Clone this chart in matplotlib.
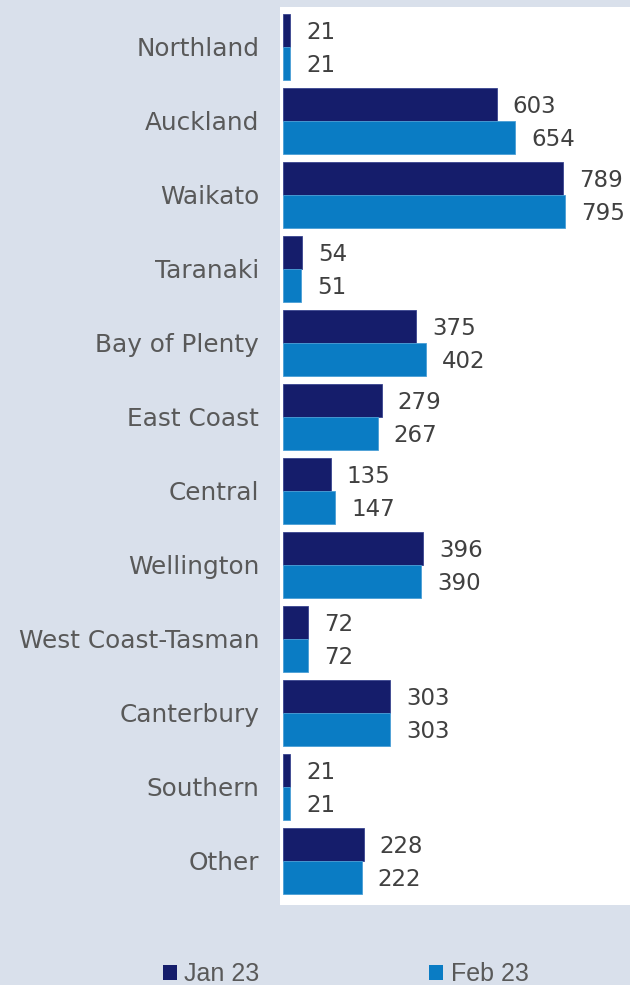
import matplotlib
matplotlib.use("Agg")
import matplotlib.pyplot as plt
from matplotlib.patches import Patch
import numpy as np

regions = ["Northland", "Auckland", "Waikato", "Taranaki", "Bay of Plenty",
           "East Coast", "Central", "Wellington", "West Coast-Tasman",
           "Canterbury", "Southern", "Other"]
jan_23 = [21, 603, 789, 54, 375, 279, 135, 396, 72, 303, 21, 228]
feb_23 = [21, 654, 795, 51, 402, 267, 147, 390, 72, 303, 21, 222]
series_names = ["Jan 23", "Feb 23"]

bg = "#d9e0eb"
navy = "#151d6b"
blue = "#0a7cc4"
label_col = "#595959"

fig = plt.figure(figsize=(6.3, 9.85), dpi=100, facecolor=bg)
ax = fig.add_axes([280 / 630, 80 / 985, 350 / 630, 898 / 985])
ax.set_facecolor("white")

y = np.arange(len(regions))
h = 0.45
b1 = ax.barh(y - h / 2, jan_23, height=h, color=navy, edgecolor="#3a4590", linewidth=0.6)
b2 = ax.barh(y + h / 2, feb_23, height=h, color=blue, edgecolor="#4a9fd6", linewidth=0.6)

for bars, vals in ((b1, jan_23), (b2, feb_23)):
    for bar, v in zip(bars, vals):
        ax.annotate(str(v), (bar.get_width(), bar.get_y() + bar.get_height() / 2),
                    xytext=(11.5, -1.5), textcoords="offset points",
                    va="center", ha="left", fontsize=16.5, color="#404040",
                    family="DejaVu Sans")

ax.set_xlim(-8, 978)
ax.set_ylim(11.595, -0.54)
ax.set_yticks(y)
ax.set_yticklabels(regions, fontsize=17.8, color=label_col, family="DejaVu Sans")
ax.tick_params(axis="y", length=0, pad=15)
ax.set_xticks([])
for s in ax.spines.values():
    s.set_visible(False)

handles = [Patch(facecolor=navy), Patch(facecolor=blue)]
fig.legend(handles, series_names, loc="center left", bbox_to_anchor=(140 / 630, 11 / 985),
           ncol=2, frameon=False, handlelength=0.56, handleheight=0.56,
           handletextpad=0.3, columnspacing=6.8,
           prop={"family": "Liberation Sans", "size": 18}, labelcolor=label_col)

fig.savefig("out.png", dpi=100, facecolor=bg)
